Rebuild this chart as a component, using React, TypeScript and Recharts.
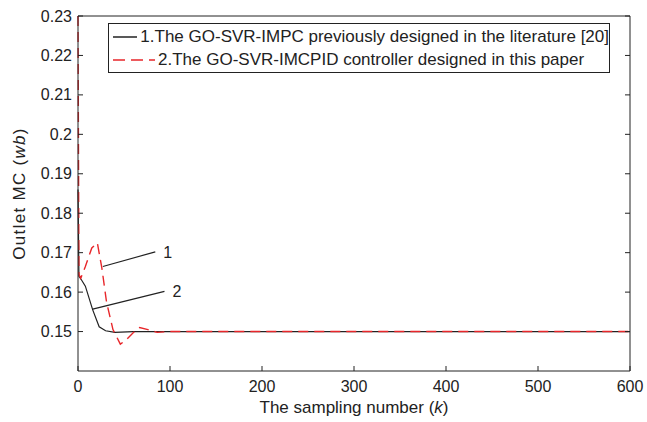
import { LineChart, Line, XAxis, YAxis, ReferenceLine, ReferenceDot } from 'recharts'

// sampling index k and outlet moisture content
const kImpc = [0, 1, 4, 8, 16, 23, 30, 40, 60, 100, 600]
const mcImpc = [0.186, 0.164, 0.163, 0.1615, 0.1555, 0.1512, 0.1502, 0.1498, 0.15, 0.15, 0.15]

const kPid = [0, 1, 3, 8, 15, 21, 26, 31, 38, 46, 52, 60, 67, 76, 86, 100, 600]
const mcPid = [0.23, 0.1645, 0.1635, 0.1665, 0.1712, 0.1725, 0.166, 0.1575, 0.1505, 0.1468, 0.1478, 0.1497, 0.151, 0.1505, 0.1498, 0.15, 0.15]

const xTicks = [0, 100, 200, 300, 400, 500, 600]
const yTicks = [0.15, 0.16, 0.17, 0.18, 0.19, 0.2, 0.21, 0.22, 0.23]

const legendLabels = [
  '1.The GO-SVR-IMPC previously designed in the literature [20]',
  '2.The GO-SVR-IMCPID controller designed in this paper',
]

// pointer lines for the "1" / "2" callouts: [k1, y1, k2, y2]
const pointer1 = [27, 0.1665, 84, 0.1702]
const pointer2 = [16, 0.1557, 94, 0.1602]

const impc = kImpc.map((k, i) => ({ k, mc: mcImpc[i] }))
const pid = kPid.map((k, i) => ({ k, mc: mcPid[i] }))

const INK = '#222'
const RED = '#e8262a'
const FONT = 'Arial, "Liberation Sans", sans-serif'
const X_DOMAIN: [number, number] = [0, 600]
const Y_DOMAIN: [number, number] = [0.14, 0.23]
const TICK_IN = 5 // matlab-style inward tick length
const X_MARGIN = 8
const Y_MARGIN = 6

// tick renderers: label outside + short mark pointing into the plot
const BottomTick = ({ x, y, payload }: any) => (
  <g>
    <line x1={x} x2={x} y1={y - X_MARGIN} y2={y - X_MARGIN - TICK_IN} stroke={INK} />
    <text x={x} y={y} dy="0.8em" textAnchor="middle" fill={INK} fontSize={16}>{payload.value}</text>
  </g>
)
const LeftTick = ({ x, y, payload }: any) => (
  <g>
    <line x1={x + Y_MARGIN} x2={x + Y_MARGIN + TICK_IN} y1={y} y2={y} stroke={INK} />
    <text x={x} y={y} dy="0.35em" textAnchor="end" fill={INK} fontSize={16}>{payload.value}</text>
  </g>
)
const TopTick = ({ x, y }: any) => <line x1={x} x2={x} y1={y} y2={y + TICK_IN} stroke={INK} />
const RightTick = ({ x, y }: any) => <line x1={x} x2={x - TICK_IN} y1={y} y2={y} stroke={INK} />

// axis titles with the italic symbol part, positioned from the axis viewBox
function XTitle({ viewBox }: any) {
  const cx = viewBox.x + viewBox.width / 2
  const y = viewBox.y + viewBox.height - 9
  return (
    <text x={cx} y={y} textAnchor="middle" fill={INK} fontSize={17}>
      The sampling number (<tspan fontStyle="italic">k</tspan>)
    </text>
  )
}

function YTitle({ viewBox }: any) {
  const x = viewBox.x + 25
  const cy = viewBox.y + viewBox.height / 2
  return (
    <text x={x} y={cy} transform={`rotate(-90 ${x} ${cy})`} textAnchor="middle" fill={INK} fontSize={17} letterSpacing={1.3}>
      Outlet MC (<tspan fontStyle="italic">wb</tspan>)
    </text>
  )
}

// legend drawn as an overlay so it doesn't steal plot space (matlab-style box inside axes)
function LegendBox() {
  return (
    <div style={{ position: 'absolute', left: 108, top: 23, boxSizing: 'border-box', width: 502, height: 50, border: `1.5px solid ${INK}`, background: '#fff', padding: '1px 0 0 4px', fontFamily: FONT, fontSize: 17, color: INK, whiteSpace: 'nowrap' }}>
      {legendLabels.map((t, i) => (
        <div key={t} style={{ display: 'flex', alignItems: 'center', height: 23 }}>
          <svg width={42} height={6} style={{ marginRight: 3 }}>
            <line x1={0} y1={3} x2={42} y2={3} stroke={i === 0 ? INK : RED} strokeWidth={1.5} strokeDasharray={i === 0 ? undefined : '12 6'} />
          </svg>
          <span>{t}</span>
        </div>
      ))}
    </div>
  )
}

export default function App() {
  return (
    <div style={{ position: 'absolute', left: 0, top: 0, width: 647, height: 422, background: '#fff' }}>
      <LineChart width={647} height={422} margin={{ top: 15, right: 16, left: 0, bottom: 0 }} style={{ fontFamily: FONT }}>
        <XAxis
          xAxisId="b"
          type="number"
          dataKey="k"
          domain={X_DOMAIN}
          ticks={xTicks}
          height={51}
          tickLine={false}
          tickSize={0}
          tickMargin={X_MARGIN}
          stroke={INK}
          tick={BottomTick}
          label={<XTitle />}
        />
        <YAxis
          yAxisId="l"
          domain={Y_DOMAIN}
          ticks={yTicks}
          allowDataOverflow
          width={78}
          tickLine={false}
          tickSize={0}
          tickMargin={Y_MARGIN}
          stroke={INK}
          tick={LeftTick}
          label={<YTitle />}
        />
        <XAxis xAxisId="t" orientation="top" type="number" dataKey="k" domain={X_DOMAIN} ticks={xTicks} height={1} tickLine={false} tickSize={0} tickMargin={0} tick={TopTick} stroke={INK} />
        <YAxis yAxisId="r" orientation="right" domain={Y_DOMAIN} ticks={yTicks} allowDataOverflow width={1} tickLine={false} tickSize={0} tickMargin={0} tick={RightTick} stroke={INK} />

        <Line xAxisId="b" yAxisId="l" data={impc} dataKey="mc" type="linear" stroke={INK} strokeWidth={1.2} dot={false} isAnimationActive={false} />
        <Line xAxisId="b" yAxisId="l" data={pid} dataKey="mc" type="linear" stroke={RED} strokeWidth={1.4} strokeDasharray="10 6" dot={false} isAnimationActive={false} />

        <ReferenceLine xAxisId="b" yAxisId="l" segment={[{ x: pointer1[0], y: pointer1[1] }, { x: pointer1[2], y: pointer1[3] }]} stroke={INK} strokeWidth={1.2} />
        <ReferenceLine xAxisId="b" yAxisId="l" segment={[{ x: pointer2[0], y: pointer2[1] }, { x: pointer2[2], y: pointer2[3] }]} stroke={INK} strokeWidth={1.2} />
        <ReferenceDot xAxisId="b" yAxisId="l" x={pointer1[2]} y={pointer1[3]} r={0} stroke="none" label={{ value: '1', position: 'right', offset: 8, fill: INK, fontSize: 16 }} />
        <ReferenceDot xAxisId="b" yAxisId="l" x={pointer2[2]} y={pointer2[3]} r={0} stroke="none" label={{ value: '2', position: 'right', offset: 8, fill: INK, fontSize: 16 }} />
      </LineChart>
      <LegendBox />
    </div>
  )
}
